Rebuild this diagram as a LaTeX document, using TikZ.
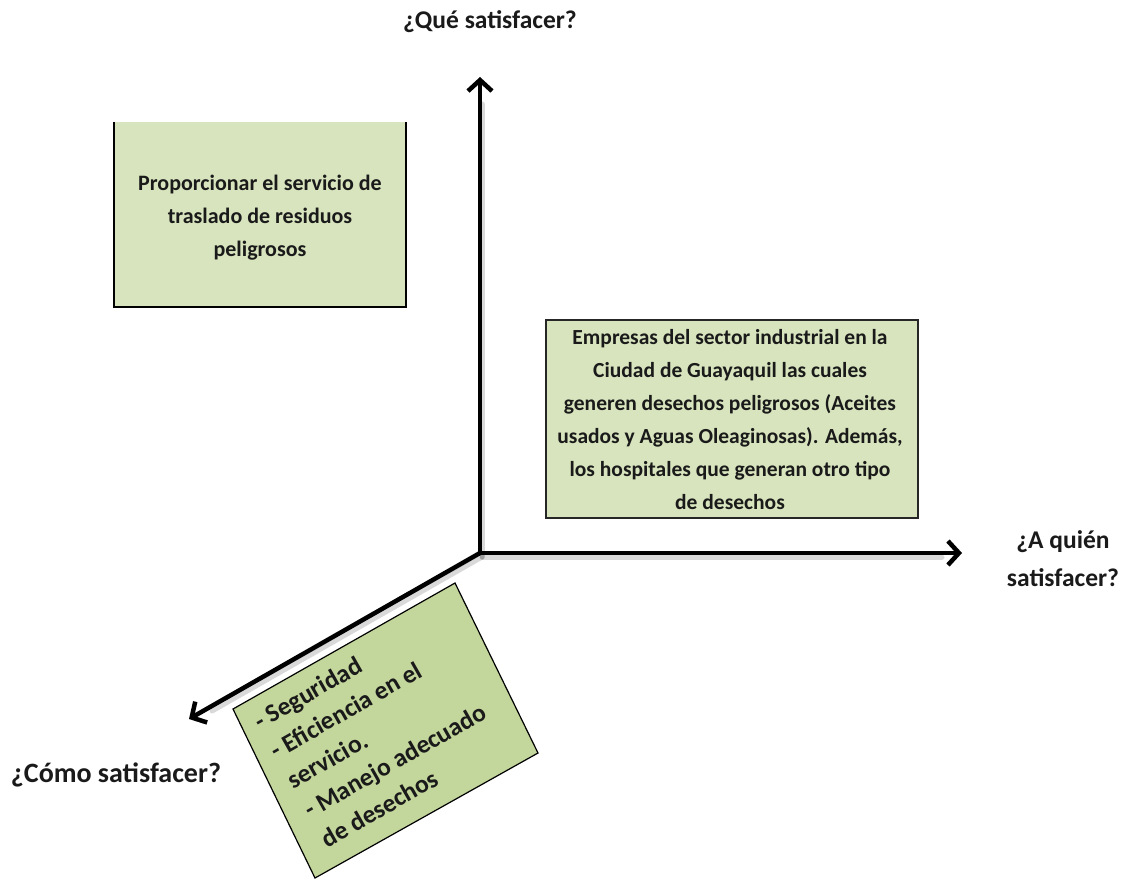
\documentclass[tikz,border=0pt]{standalone}
\usepackage{fontspec}
\setmainfont{Carlito}
\usetikzlibrary{arrows.meta}
\definecolor{lightbox}{HTML}{D7E4BD}
\definecolor{darkbox}{HTML}{C3D69B}
\definecolor{ink}{HTML}{1A1A1A}
\begin{document}
\begin{tikzpicture}[x=1pt,y=-1pt,
  lbl/.style={font=\fontsize{25.5}{38}\selectfont\bfseries, text=ink, align=center, inner sep=0pt},
  boxtxt/.style={font=\fontsize{21.5}{33}\selectfont\bfseries, text=ink, align=center, inner sep=0pt},
  axisline/.style={line width=4.5pt, line cap=round, -{Straight Barb[length=11pt,width=24pt]}},
  axisshadow/.style={line width=5pt, black, opacity=0.15, line cap=round}
]
\useasboundingbox (0,0) rectangle (1142,879);
\fill[white] (0,0) rectangle (1142,879);

% boxes
\fill[lightbox] (114,122) rectangle (406,307);
\draw[line width=2.5pt, black] (114,122) -- (114,307) -- (406,307) -- (406,122);
\node[boxtxt, font=\fontsize{22}{33}\selectfont\bfseries] (qtext) at (260,218) {Proporcionar el servicio de\\traslado de residuos\\peligrosos};

\draw[line width=2pt, black!85, fill=lightbox] (546,320) rectangle (918,518);
\node[boxtxt] (wtext) at (730,420) {Empresas del sector industrial en la\\Ciudad de Guayaquil las cuales\\generen desechos peligrosos (Aceites\\usados y Aguas Oleaginosas). Además,\\los hospitales que generan otro tipo\\de desechos};

% axes
\coordinate (O) at (480,553);
\coordinate (up) at (480,77);
\coordinate (right) at (962,553);
\coordinate (left) at (189,719);
\draw[axisshadow] ([shift={(2,4)}]O) -- ([shift={(2,4)}]480,100);
\draw[axisshadow] ([shift={(2,4)}]O) -- ([shift={(2,4)}]940,553);
\draw[axisshadow] ([shift={(2,4)}]O) -- ([shift={(2,4)}]210,707);
\draw[axisline] (O) -- (up);
\draw[axisline] (O) -- (right);
\draw[axisline] (O) -- (left);

% rotated box
\coordinate (bT) at (455,583);
\coordinate (bR) at (538,753);
\coordinate (bB) at (315,878);
\coordinate (bL) at (233,709);
\draw[line width=1.2pt, black, fill=darkbox] (bT) -- (bR) -- (bB) -- (bL) -- cycle;
\node[font=\fontsize{25.5}{34}\selectfont\bfseries, text=ink, align=left, inner sep=0pt,
      rotate=29.6, anchor=north west] (htext) at (251,714.5)
  {- Seguridad\\- Eficiencia en el\\servicio.\\- Manejo adecuado\\de desechos};

% labels
\node[lbl] (lq) at (490,22) {¿Qué satisfacer?};
\node[lbl] (la) at (1063,559) {¿A quién\\satisfacer?};
\node[lbl, font=\fontsize{28}{34}\selectfont\bfseries] (lc) at (116,775) {¿Cómo satisfacer?};
\end{tikzpicture}
\end{document}
